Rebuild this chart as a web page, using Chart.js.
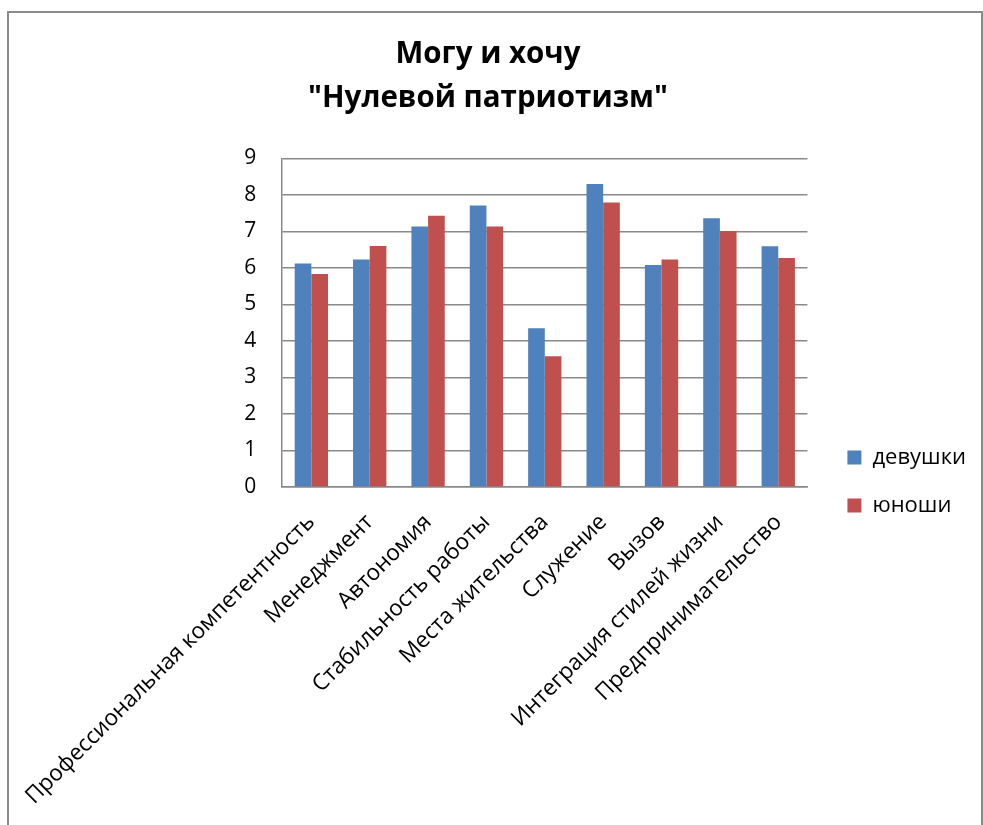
<!DOCTYPE html>
<html>
<head>
<meta charset="utf-8">
<script src="https://cdn.jsdelivr.net/npm/chart.js@4"></script>
<style>
    html, body { margin: 0; padding: 0; background: #fff; overflow: hidden; }
    #frame {
        position: absolute; left: 7px; top: 11px; width: 972px; height: 900px;
        border-left: 2px solid #8a8a8a; border-top: 2px solid #8a8a8a; border-right: 2px solid #8a8a8a;
    }
    #chart { position: absolute; left: 0; top: 0; }
</style>
</head>
<body>
<div id="frame"></div>
<canvas id="chart" width="983" height="825"></canvas>
<script>
const categories = [
    'Профессиональная компетентность',
    'Менеджмент',
    'Автономия',
    'Стабильность работы',
    'Места жительства',
    'Служение',
    'Вызов',
    'Интеграция стилей жизни',
    'Предпринимательство'
];
const girls = [6.12, 6.23, 7.13, 7.71, 4.35, 8.3, 6.08, 7.36, 6.59];
const boys = [5.83, 6.6, 7.43, 7.13, 3.58, 7.79, 6.23, 7.01, 6.27];
const titleLines = ['Могу и хочу', '"Нулевой патриотизм"'];

Chart.defaults.font.family = "'Open Sans', sans-serif";
Chart.defaults.color = '#000';

const gridColor = '#898989';

new Chart(document.getElementById('chart'), {
    type: 'bar',
    data: {
        labels: categories,
        datasets: [
            { label: 'девушки', data: girls, backgroundColor: '#4F81BD' },
            { label: 'юноши', data: boys, backgroundColor: '#C0504D' }
        ]
    },
    options: {
        responsive: false,
        animation: false,
        layout: { padding: { left: 0, right: 7, top: 0, bottom: 22 } },
        datasets: { bar: { categoryPercentage: 0.571, barPercentage: 1.0 } },
        plugins: {
            title: {
                display: true,
                text: titleLines,
                font: { size: 29.5, weight: 'bold', lineHeight: 1.48 },
                padding: { top: 33, bottom: 38 }
            },
            legend: {
                position: 'right',
                // empty title only pushes the items down
                title: { display: true, text: ' ', font: { size: 10, lineHeight: 1 }, padding: { top: 150, bottom: 0 } },
                labels: {
                    boxWidth: 14,
                    boxHeight: 14,
                    padding: 26,
                    font: { size: 22 }
                }
            },
            tooltip: { enabled: false }
        },
        scales: {
            x: {
                grid: { display: false },
                border: { display: true, color: gridColor, width: 1.5 },
                ticks: {
                    autoSkip: false,
                    maxRotation: 45,
                    minRotation: 45,
                    padding: 14,
                    font: { size: 22.5 }
                },
                afterFit: scale => { scale.height = 316; }
            },
            y: {
                min: 0,
                max: 9,
                ticks: { stepSize: 1, padding: 26, font: { size: 21 } },
                grid: { color: gridColor, lineWidth: 1.5, drawTicks: false },
                border: { display: true, color: gridColor, width: 1.5 },
                afterFit: scale => { scale.width = 281; }
            },
            gap: {
                position: 'right',
                display: true,
                ticks: { display: false },
                grid: { display: false, drawTicks: false },
                border: { display: false },
                afterFit: scale => { scale.width = 14; }
            }
        }
    }
});
</script>
</body>
</html>
